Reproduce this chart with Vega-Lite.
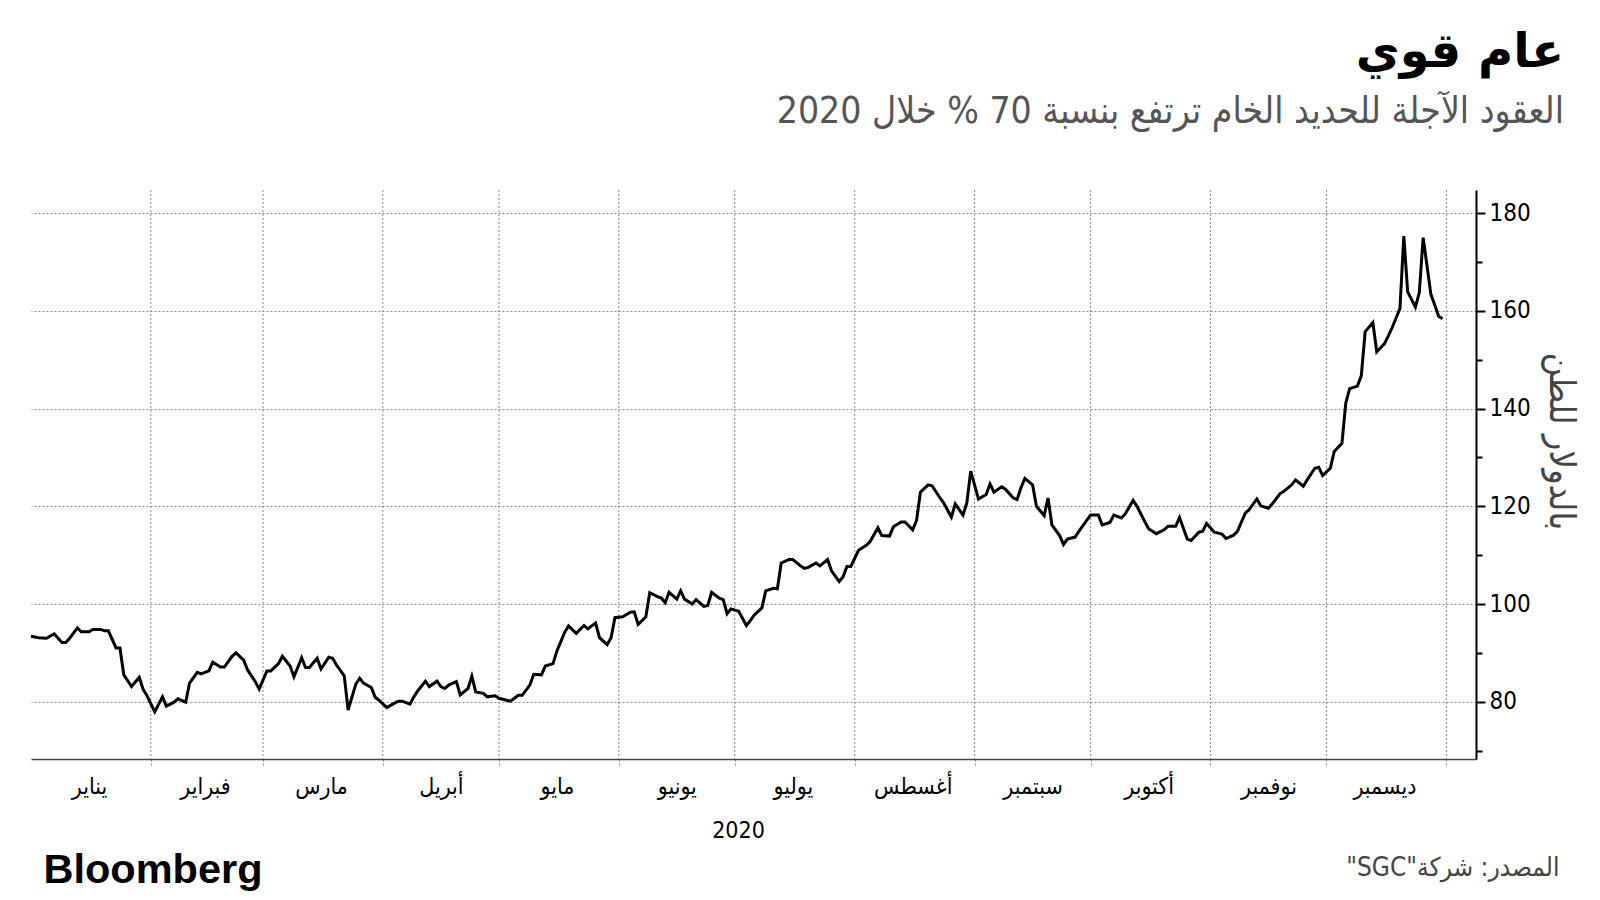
{
  "$schema": "https://vega.github.io/schema/vega-lite/v6.json",
  "width": 1445,
  "height": 569,
  "autosize": {"type": "none"},
  "padding": {"left": 31, "top": 190, "right": 124, "bottom": 141},
  "background": "white",
  "title": {
    "text": "عام قوي",
    "subtitle": "العقود الآجلة للحديد الخام ترتفع بنسبة 70 % خلال 2020",
    "anchor": "end",
    "frame": "group",
    "dx": 88,
    "offset": 60,
    "font": "DejaVu Sans",
    "fontSize": 48,
    "fontWeight": "bold",
    "color": "black",
    "subtitleFont": "DejaVu Sans Condensed",
    "subtitleFontSize": 37,
    "subtitleColor": "#555555",
    "subtitlePadding": 17
  },
  "config": {"view": {"stroke": null}},
  "datasets": {
    "boundaries": [
      {"date": "2020-02-01"}, {"date": "2020-03-01"}, {"date": "2020-04-01"}, {"date": "2020-05-01"},
      {"date": "2020-06-01"}, {"date": "2020-07-01"}, {"date": "2020-08-01"}, {"date": "2020-09-01"},
      {"date": "2020-10-01"}, {"date": "2020-11-01"}, {"date": "2020-12-01"}, {"date": "2021-01-01"}
    ],
    "months": [
      {"mid": "2020-01-16", "name": "يناير"}, {"mid": "2020-02-15", "name": "فبراير"},
      {"mid": "2020-03-16", "name": "مارس"}, {"mid": "2020-04-16", "name": "أبريل"},
      {"mid": "2020-05-16", "name": "مايو"}, {"mid": "2020-06-16", "name": "يونيو"},
      {"mid": "2020-07-16", "name": "يوليو"}, {"mid": "2020-08-16", "name": "أغسطس"},
      {"mid": "2020-09-16", "name": "سبتمبر"}, {"mid": "2020-10-16", "name": "أكتوبر"},
      {"mid": "2020-11-16", "name": "نوفمبر"}, {"mid": "2020-12-16", "name": "ديسمبر"}
    ],
    "prices": [
      {"date":"2020-01-01","price":93.4},{"date":"2020-01-03","price":93.1},{"date":"2020-01-05","price":93.0},{"date":"2020-01-07","price":93.9},
      {"date":"2020-01-09","price":92.1},{"date":"2020-01-10","price":92.1},{"date":"2020-01-11","price":93.0},{"date":"2020-01-13","price":95.1},
      {"date":"2020-01-14","price":94.3},{"date":"2020-01-16","price":94.3},{"date":"2020-01-17","price":94.8},{"date":"2020-01-19","price":94.8},
      {"date":"2020-01-20","price":94.5},{"date":"2020-01-21","price":94.5},{"date":"2020-01-23","price":91.0},{"date":"2020-01-24","price":91.0},
      {"date":"2020-01-25","price":85.5},{"date":"2020-01-27","price":83.1},{"date":"2020-01-29","price":85.0},{"date":"2020-01-30","price":82.5},
      {"date":"2020-01-31","price":81.2},
      {"date":"2020-02-02","price":77.9},{"date":"2020-02-04","price":81.0},{"date":"2020-02-05","price":79.1},{"date":"2020-02-07","price":79.9},
      {"date":"2020-02-08","price":80.6},{"date":"2020-02-10","price":79.9},{"date":"2020-02-11","price":83.8},{"date":"2020-02-13","price":86.0},
      {"date":"2020-02-14","price":85.7},{"date":"2020-02-16","price":86.3},{"date":"2020-02-17","price":88.1},{"date":"2020-02-19","price":87.1},
      {"date":"2020-02-20","price":87.1},{"date":"2020-02-22","price":89.3},{"date":"2020-02-23","price":90.0},{"date":"2020-02-25","price":88.5},
      {"date":"2020-02-26","price":86.5},{"date":"2020-02-28","price":84.1},{"date":"2020-02-29","price":82.6},
      {"date":"2020-03-02","price":86.3},{"date":"2020-03-03","price":86.3},{"date":"2020-03-05","price":87.8},{"date":"2020-03-06","price":89.3},
      {"date":"2020-03-08","price":87.3},{"date":"2020-03-09","price":85.1},{"date":"2020-03-11","price":89.0},{"date":"2020-03-12","price":87.0},
      {"date":"2020-03-13","price":87.0},{"date":"2020-03-15","price":88.9},{"date":"2020-03-16","price":86.7},{"date":"2020-03-18","price":89.1},
      {"date":"2020-03-19","price":88.9},{"date":"2020-03-20","price":87.5},{"date":"2020-03-22","price":85.3},{"date":"2020-03-23","price":78.3},
      {"date":"2020-03-25","price":83.6},{"date":"2020-03-26","price":84.8},{"date":"2020-03-27","price":83.8},{"date":"2020-03-29","price":82.9},
      {"date":"2020-03-30","price":80.9},{"date":"2020-03-31","price":80.3},
      {"date":"2020-04-02","price":78.8},{"date":"2020-04-04","price":79.7},{"date":"2020-04-05","price":80.1},{"date":"2020-04-06","price":80.1},
      {"date":"2020-04-08","price":79.5},{"date":"2020-04-09","price":81.0},{"date":"2020-04-10","price":82.2},{"date":"2020-04-12","price":84.2},
      {"date":"2020-04-13","price":83.1},{"date":"2020-04-15","price":84.2},{"date":"2020-04-16","price":83.1},{"date":"2020-04-17","price":82.7},
      {"date":"2020-04-18","price":83.4},{"date":"2020-04-20","price":84.1},{"date":"2020-04-21","price":81.4},{"date":"2020-04-23","price":82.7},
      {"date":"2020-04-24","price":85.2},{"date":"2020-04-25","price":82.0},{"date":"2020-04-27","price":81.7},{"date":"2020-04-28","price":81.0},
      {"date":"2020-04-30","price":81.2},
      {"date":"2020-05-01","price":80.7},{"date":"2020-05-03","price":80.3},{"date":"2020-05-04","price":80.1},{"date":"2020-05-06","price":81.3},
      {"date":"2020-05-07","price":81.3},{"date":"2020-05-09","price":83.4},{"date":"2020-05-10","price":85.6},{"date":"2020-05-12","price":85.5},
      {"date":"2020-05-13","price":87.3},{"date":"2020-05-15","price":87.8},{"date":"2020-05-16","price":90.4},{"date":"2020-05-18","price":94.2},
      {"date":"2020-05-19","price":95.5},{"date":"2020-05-21","price":94.0},{"date":"2020-05-23","price":95.6},{"date":"2020-05-24","price":94.9},
      {"date":"2020-05-26","price":96.1},{"date":"2020-05-27","price":93.1},{"date":"2020-05-29","price":91.7},{"date":"2020-05-30","price":93.1},
      {"date":"2020-05-31","price":97.2},
      {"date":"2020-06-02","price":97.4},{"date":"2020-06-04","price":98.3},{"date":"2020-06-05","price":98.4},{"date":"2020-06-06","price":95.8},
      {"date":"2020-06-08","price":97.4},{"date":"2020-06-09","price":102.3},{"date":"2020-06-11","price":101.5},{"date":"2020-06-12","price":101.2},
      {"date":"2020-06-13","price":100.3},{"date":"2020-06-14","price":102.4},{"date":"2020-06-16","price":101.0},{"date":"2020-06-17","price":102.7},
      {"date":"2020-06-18","price":101.0},{"date":"2020-06-20","price":100.0},{"date":"2020-06-21","price":100.9},{"date":"2020-06-23","price":99.5},
      {"date":"2020-06-24","price":99.7},{"date":"2020-06-25","price":102.4},{"date":"2020-06-27","price":101.2},{"date":"2020-06-28","price":100.9},
      {"date":"2020-06-29","price":98.0},{"date":"2020-06-30","price":99.0},
      {"date":"2020-07-02","price":98.5},{"date":"2020-07-04","price":95.6},{"date":"2020-07-05","price":96.6},{"date":"2020-07-06","price":97.7},
      {"date":"2020-07-08","price":99.2},{"date":"2020-07-09","price":102.7},{"date":"2020-07-11","price":103.2},{"date":"2020-07-12","price":103.1},
      {"date":"2020-07-13","price":108.4},{"date":"2020-07-15","price":109.1},{"date":"2020-07-16","price":109.1},{"date":"2020-07-18","price":107.8},
      {"date":"2020-07-19","price":107.3},{"date":"2020-07-20","price":107.5},{"date":"2020-07-22","price":108.4},{"date":"2020-07-23","price":107.8},
      {"date":"2020-07-25","price":109.1},{"date":"2020-07-26","price":106.8},{"date":"2020-07-28","price":104.6},{"date":"2020-07-29","price":105.6},
      {"date":"2020-07-30","price":107.7},{"date":"2020-07-31","price":107.7},
      {"date":"2020-08-02","price":111.0},{"date":"2020-08-04","price":112.0},{"date":"2020-08-05","price":112.8},{"date":"2020-08-07","price":115.6},
      {"date":"2020-08-08","price":114.0},{"date":"2020-08-10","price":113.9},{"date":"2020-08-11","price":115.8},{"date":"2020-08-13","price":116.8},
      {"date":"2020-08-14","price":116.8},{"date":"2020-08-16","price":115.2},{"date":"2020-08-17","price":117.1},{"date":"2020-08-18","price":122.9},
      {"date":"2020-08-20","price":124.4},{"date":"2020-08-21","price":124.2},{"date":"2020-08-23","price":121.8},{"date":"2020-08-24","price":120.7},
      {"date":"2020-08-26","price":117.8},{"date":"2020-08-27","price":120.5},{"date":"2020-08-29","price":118.2},{"date":"2020-08-30","price":120.7},
      {"date":"2020-08-31","price":127.2},
      {"date":"2020-09-02","price":121.5},{"date":"2020-09-04","price":122.4},{"date":"2020-09-05","price":124.6},{"date":"2020-09-06","price":122.9},
      {"date":"2020-09-08","price":124.0},{"date":"2020-09-09","price":123.5},{"date":"2020-09-11","price":121.7},{"date":"2020-09-12","price":121.4},
      {"date":"2020-09-13","price":123.8},{"date":"2020-09-14","price":125.7},{"date":"2020-09-16","price":124.4},{"date":"2020-09-17","price":120.0},
      {"date":"2020-09-19","price":118.1},{"date":"2020-09-20","price":121.7},{"date":"2020-09-21","price":116.2},{"date":"2020-09-23","price":114.0},
      {"date":"2020-09-24","price":112.2},{"date":"2020-09-25","price":113.3},{"date":"2020-09-27","price":113.7},{"date":"2020-09-28","price":114.9},
      {"date":"2020-09-30","price":117.1},
      {"date":"2020-10-01","price":118.2},{"date":"2020-10-03","price":118.2},{"date":"2020-10-04","price":116.2},{"date":"2020-10-06","price":116.7},
      {"date":"2020-10-07","price":118.2},{"date":"2020-10-09","price":117.6},{"date":"2020-10-10","price":118.5},{"date":"2020-10-12","price":121.2},
      {"date":"2020-10-13","price":120.0},{"date":"2020-10-15","price":116.9},{"date":"2020-10-16","price":115.4},{"date":"2020-10-18","price":114.4},
      {"date":"2020-10-20","price":115.2},{"date":"2020-10-21","price":115.9},{"date":"2020-10-23","price":115.9},{"date":"2020-10-24","price":117.7},
      {"date":"2020-10-26","price":113.3},{"date":"2020-10-27","price":113.0},{"date":"2020-10-29","price":114.7},{"date":"2020-10-30","price":114.9},
      {"date":"2020-10-31","price":116.5},
      {"date":"2020-11-02","price":114.7},{"date":"2020-11-04","price":114.3},{"date":"2020-11-05","price":113.4},{"date":"2020-11-07","price":114.1},
      {"date":"2020-11-08","price":114.9},{"date":"2020-11-10","price":118.6},{"date":"2020-11-11","price":119.3},{"date":"2020-11-13","price":121.5},
      {"date":"2020-11-14","price":120.1},{"date":"2020-11-16","price":119.6},{"date":"2020-11-17","price":120.5},{"date":"2020-11-19","price":122.6},
      {"date":"2020-11-20","price":123.1},{"date":"2020-11-22","price":124.4},{"date":"2020-11-23","price":125.4},{"date":"2020-11-25","price":124.1},
      {"date":"2020-11-26","price":125.4},{"date":"2020-11-28","price":127.8},{"date":"2020-11-29","price":128.0},{"date":"2020-11-30","price":126.3},
      {"date":"2020-12-02","price":127.8},{"date":"2020-12-03","price":131.2},{"date":"2020-12-05","price":132.9},{"date":"2020-12-06","price":141.2},
      {"date":"2020-12-07","price":144.1},{"date":"2020-12-09","price":144.6},{"date":"2020-12-10","price":146.7},{"date":"2020-12-11","price":155.7},
      {"date":"2020-12-13","price":157.6},{"date":"2020-12-14","price":151.6},{"date":"2020-12-16","price":153.3},{"date":"2020-12-17","price":154.9},
      {"date":"2020-12-18","price":156.6},{"date":"2020-12-20","price":160.5},{"date":"2020-12-21","price":175.3},{"date":"2020-12-22","price":163.9},
      {"date":"2020-12-24","price":160.8},{"date":"2020-12-25","price":163.7},{"date":"2020-12-26","price":175.0},{"date":"2020-12-28","price":163.4},
      {"date":"2020-12-29","price":161.2},{"date":"2020-12-30","price":158.9},{"date":"2020-12-31","price":158.4}
    ]
  },
  "resolve": {"axis": {"x": "independent"}},
  "layer": [
    {
      "data": {"name": "boundaries"},
      "mark": {"type": "rule", "color": "#8a8a8a", "strokeDash": [2, 2], "strokeWidth": 1},
      "encoding": {
        "x": {
          "field": "date", "type": "temporal",
          "scale": {"type": "utc", "domain": [{"year": 2020, "month": 1, "date": 1, "utc": true}, {"year": 2021, "month": 1, "date": 8, "hours": 16, "utc": true}]},
          "axis": {
            "orient": "bottom",
            "values": [
              {"year": 2020, "month": 2, "date": 1, "utc": true}, {"year": 2020, "month": 3, "date": 1, "utc": true},
              {"year": 2020, "month": 4, "date": 1, "utc": true}, {"year": 2020, "month": 5, "date": 1, "utc": true},
              {"year": 2020, "month": 6, "date": 1, "utc": true}, {"year": 2020, "month": 7, "date": 1, "utc": true},
              {"year": 2020, "month": 8, "date": 1, "utc": true}, {"year": 2020, "month": 9, "date": 1, "utc": true},
              {"year": 2020, "month": 10, "date": 1, "utc": true}, {"year": 2020, "month": 11, "date": 1, "utc": true},
              {"year": 2020, "month": 12, "date": 1, "utc": true}, {"year": 2021, "month": 1, "date": 1, "utc": true}
            ],
            "labels": false,
            "ticks": true,
            "tickSize": 6,
            "tickDash": [2, 2],
            "tickColor": "#8a8a8a",
            "grid": false,
            "domain": true,
            "domainColor": "#444444",
            "domainWidth": 1.5,
            "title": "Bloomberg",
            "titleFont": "Liberation Sans",
            "titleFontSize": 41.5,
            "titleFontWeight": "bold",
            "titleColor": "black",
            "titleAlign": "left",
            "titleBaseline": "alphabetic",
            "titleX": 12,
            "titleY": 123
          }
        }
      }
    },
    {
      "data": {"name": "months"},
      "mark": {"type": "point", "opacity": 0},
      "encoding": {
        "x": {
          "field": "mid", "type": "temporal",
          "scale": {"type": "utc", "domain": [{"year": 2020, "month": 1, "date": 1, "utc": true}, {"year": 2021, "month": 1, "date": 8, "hours": 16, "utc": true}]},
          "axis": {
            "orient": "bottom",
            "values": [
              {"year": 2020, "month": 1, "date": 16, "utc": true}, {"year": 2020, "month": 2, "date": 15, "utc": true},
              {"year": 2020, "month": 3, "date": 16, "utc": true}, {"year": 2020, "month": 4, "date": 16, "utc": true},
              {"year": 2020, "month": 5, "date": 16, "utc": true}, {"year": 2020, "month": 6, "date": 16, "utc": true},
              {"year": 2020, "month": 7, "date": 16, "utc": true}, {"year": 2020, "month": 8, "date": 16, "utc": true},
              {"year": 2020, "month": 9, "date": 16, "utc": true}, {"year": 2020, "month": 10, "date": 16, "utc": true},
              {"year": 2020, "month": 11, "date": 16, "utc": true}, {"year": 2020, "month": 12, "date": 16, "utc": true}
            ],
            "labelExpr": "['يناير','فبراير','مارس','أبريل','مايو','يونيو','يوليو','أغسطس','سبتمبر','أكتوبر','نوفمبر','ديسمبر'][utcmonth(datum.value)]",
            "ticks": false,
            "tickSize": 0,
            "domain": false,
            "grid": false,
            "labelFont": "DejaVu Sans Condensed",
            "labelFontSize": 23,
            "labelColor": "black",
            "labelBaseline": "middle",
            "labelPadding": 27,
            "labelOverlap": false,
            "labelBound": false,
            "labelFlush": false,
            "title": "2020",
            "titleFont": "DejaVu Sans Condensed",
            "titleFontSize": 23,
            "titleFontWeight": "normal",
            "titleColor": "black",
            "titleAlign": "center",
            "titleBaseline": "alphabetic",
            "titleX": 707,
            "titleY": 78
          }
        }
      }
    },
    {
      "data": {"name": "prices"},
      "mark": {"type": "line", "color": "black", "strokeWidth": 3, "strokeJoin": "miter"},
      "encoding": {
        "x": {
          "field": "date", "type": "temporal",
          "scale": {"type": "utc", "domain": [{"year": 2020, "month": 1, "date": 1, "utc": true}, {"year": 2021, "month": 1, "date": 8, "hours": 16, "utc": true}]},
          "axis": {
            "orient": "bottom",
            "labels": false,
            "ticks": false,
            "domain": false,
            "grid": false,
            "title": "‫المصدر: شركة\"SGC\"‬",
            "titleFont": "DejaVu Sans Condensed",
            "titleFontSize": 26,
            "titleFontWeight": "normal",
            "titleColor": "#444444",
            "titleAlign": "right",
            "titleBaseline": "alphabetic",
            "titleX": 1528,
            "titleY": 116
          }
        },
        "y": {
          "field": "price", "type": "quantitative",
          "scale": {"domain": [68.27, 184.75], "nice": false, "zero": false},
          "axis": {
            "orient": "right",
            "values": [70, 80, 90, 100, 110, 120, 130, 140, 150, 160, 170, 180],
            "labelExpr": "datum.value % 20 === 0 ? datum.label : ''",
            "grid": true,
            "gridDash": [2, 2],
            "gridColor": "#8a8a8a",
            "gridOpacity": {"condition": {"test": "datum.value % 20 === 0", "value": 1}, "value": 0},
            "tickSize": {"condition": {"test": "datum.value % 20 === 0", "value": 9}, "value": 6},
            "tickWidth": 2,
            "tickColor": "black",
            "domainColor": "black",
            "domainWidth": 2,
            "labelFont": "DejaVu Sans Condensed",
            "labelFontSize": 24,
            "labelColor": "black",
            "labelPadding": 4,
            "labelOverlap": false,
            "title": "بالدولار للطن",
            "titleFont": "DejaVu Sans Condensed",
            "titleFontSize": 36,
            "titleFontWeight": "normal",
            "titleColor": "#444444",
            "titleAngle": 90,
            "titleAlign": "center",
            "titleBaseline": "middle",
            "titleX": 84,
            "titleY": 251
          }
        }
      }
    }
  ]
}
